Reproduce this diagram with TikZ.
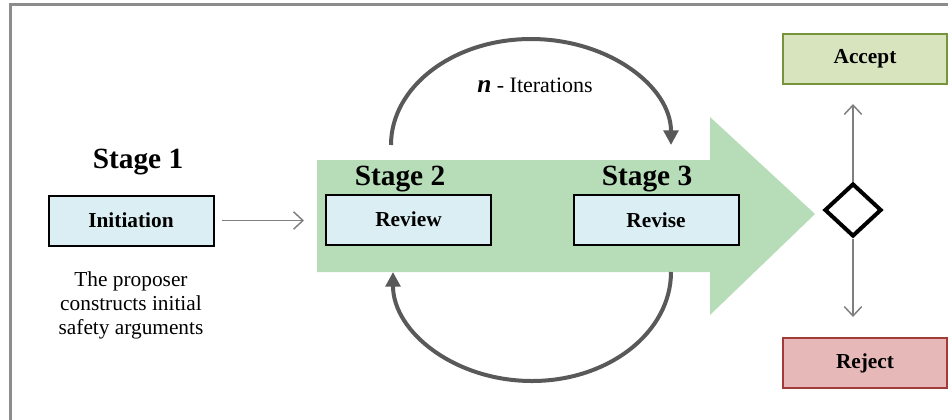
\documentclass[tikz,border=0pt]{standalone}
\usepackage{fontspec}
\setmainfont{Liberation Serif}
\usetikzlibrary{arrows.meta,shapes.geometric}
\definecolor{boxblue}{HTML}{DAEEF3}
\definecolor{flowgreen}{HTML}{B7DDB8}
\definecolor{acceptfill}{HTML}{D7E4BD}
\definecolor{acceptline}{HTML}{77933C}
\definecolor{rejectfill}{HTML}{E6B9B8}
\definecolor{rejectline}{HTML}{A33B39}
\definecolor{loopgray}{HTML}{595959}
\definecolor{thingray}{HTML}{7F7F7F}
\definecolor{framegray}{HTML}{8C8C8C}

\begin{document}
\begin{tikzpicture}[x=0.75pt,y=-0.75pt,
  stagebox/.style={draw=black,line width=1.5pt,fill=boxblue,
    minimum width=123.75pt,minimum height=37.5pt,inner sep=0pt,
    font=\bfseries\fontsize{16}{19}\selectfont},
  outcome/.style={line width=1.5pt,minimum width=123pt,minimum height=37.5pt,
    inner sep=0pt,font=\bfseries\fontsize{16}{19}\selectfont},
  stagelabel/.style={anchor=base,inner sep=0pt,font=\bfseries\fontsize{22}{26}\selectfont},
  thinarrow/.style={draw=thingray,line width=1.1pt,
    -{Straight Barb[length=7pt,width=13pt,line width=1.1pt]}},
  looparrow/.style={draw=loopgray,line width=3pt,
    -{Triangle[length=11pt,width=11pt]}},
  decision/.style={diamond,draw=black,line width=3pt,fill=white,
    minimum width=42.75pt,minimum height=39.75pt,inner sep=0pt}]

\useasboundingbox (0,0) rectangle (948,419);

% outer frame (right and bottom sides run past the page)
\draw[framegray,line width=2.25pt] (10.5,4.5) rectangle (980,450);

% broad flow arrow behind stages 2 and 3
\fill[flowgreen] (317,160) -- (710,160) -- (710,117) -- (815,214)
  -- (710,315) -- (710,272) -- (317,272) -- cycle;

% stage 1
\node[stagelabel] (s1) at (138,168) {Stage 1};
\node[stagebox] (init) at (131,220.5) {Initiation};
\node[align=center,inner sep=0pt,font=\fontsize{16}{18}\selectfont] (desc) at (131,305)
  {The proposer\\constructs initial\\safety arguments};

% stages 2 and 3
\node[stagelabel] (s2) at (400,185) {Stage 2};
\node[stagebox] (review) at (408.5,219.5) {Review};
\node[stagelabel] (s3) at (647,185) {Stage 3};
\node[stagebox] (revise) at (656,220) {Revise};

\draw[thinarrow,shorten <=5.25pt,shorten >=15.75pt] (init.east) -- (init.east -| review.west);

% iteration loops
\coordinate (loopTop) at (391,145);
\coordinate (loopBot) at (671,272);
\draw[looparrow] (loopTop) arc[start angle=180,end angle=360,x radius=140,y radius=106];
\draw[looparrow] (loopBot) arc[start angle=0,end angle=180,x radius=139,y radius=109];
\node[anchor=base,inner sep=0pt,font=\fontsize{16.5}{19}\selectfont] (iter) at (535,92)
  {{\fontsize{19}{19}\selectfont\textbf{\textit{n}}} - Iterations};

% decision and outcomes
\node[decision] (dec) at (853,210) {};
\node[outcome,draw=acceptline,fill=acceptfill] (accept) at (865,59) {Accept};
\node[outcome,draw=rejectline,fill=rejectfill] (reject) at (865,363) {Reject};
\draw[thinarrow,shorten >=14.25pt] (dec.north) -- (dec.north |- accept.south);
\draw[thinarrow,shorten >=15pt] (dec.south) -- (dec.south |- reject.north);

\end{tikzpicture}
\end{document}
